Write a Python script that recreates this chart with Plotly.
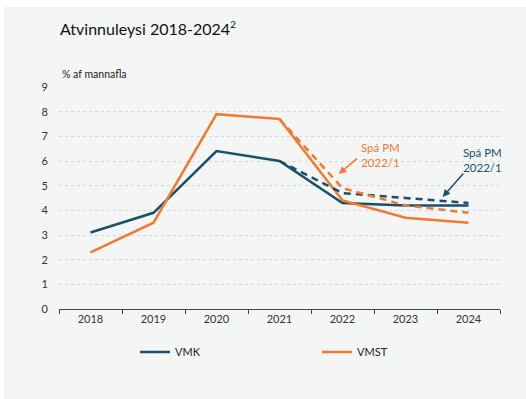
import plotly.graph_objects as go

# Unemployment 2018-2024, % of labour force
years = ["2018", "2019", "2020", "2021", "2022", "2023", "2024"]
vmk = [3.1, 3.9, 6.4, 6.0, 4.3, 4.2, 4.2]
vmst = [2.3, 3.5, 7.9, 7.7, 4.4, 3.7, 3.5]

# Earlier forecast (PM 2022/1), from 2021 onward
fc_years = ["2021", "2022", "2023", "2024"]
vmk_fc = [6.0, 4.7, 4.5, 4.3]
vmst_fc = [7.7, 4.9, 4.2, 3.9]

BLUE = "#1b4f6b"
ORANGE = "#f07a2e"
BG = "#f4f6f6"
FONT = "Lato"

fig = go.Figure()
fig.add_trace(go.Scatter(x=years, y=vmk, mode="lines", name="VMK",
                         line=dict(color=BLUE, width=2.5)))
fig.add_trace(go.Scatter(x=years, y=vmst, mode="lines", name="VMST",
                         line=dict(color=ORANGE, width=2.5)))
fig.add_trace(go.Scatter(x=fc_years, y=vmk_fc, mode="lines", showlegend=False,
                         line=dict(color=BLUE, width=2.5, dash="7px,5px")))
fig.add_trace(go.Scatter(x=fc_years, y=vmst_fc, mode="lines", showlegend=False,
                         line=dict(color=ORANGE, width=2.5, dash="7px,5px")))

W, H = 526, 399
ML, MR, MT, MB = 59, 26, 87, 90

def px_x(p):
    return (p - ML) / (W - ML - MR)

def px_y(p):
    return (H - MB - p) / (H - MT - MB)

# Panel background
fig.add_shape(type="rect", xref="paper", yref="paper",
              x0=px_x(4), x1=px_x(W), y0=px_y(H), y1=px_y(7),
              fillcolor=BG, line=dict(width=0), layer="below")

fig.add_annotation(text="Atvinnuleysi 2018-2024<sup><span style='font-size:10px'>2</span></sup>",
                   xref="paper", yref="paper",
                   x=px_x(58), y=px_y(28), xanchor="left", yanchor="middle",
                   showarrow=False, font=dict(family=FONT, size=16, color="#111111"))
fig.add_annotation(text="% af mannafla", xref="paper", yref="paper",
                   x=px_x(60), y=px_y(74), xanchor="left", yanchor="middle",
                   showarrow=False, font=dict(family=FONT, size=10.5, color="#222222"))

# Forecast labels and their pointers
fig.add_annotation(text="Spá PM<br>2022/1", xref="paper", yref="paper",
                   x=px_x(380), y=px_y(155), xanchor="center", yanchor="middle",
                   showarrow=False, font=dict(family=FONT, size=11.5, color=ORANGE))
fig.add_annotation(text="", x=3.94, y=5.47, xref="x", yref="y",
                   ax=20, ay=-17, showarrow=True, arrowhead=2, arrowsize=1,
                   arrowwidth=1.5, arrowcolor=ORANGE, standoff=0)
fig.add_annotation(text="Spá PM<br>2022/1", xref="paper", yref="paper",
                   x=px_x(482), y=px_y(160), xanchor="center", yanchor="middle",
                   showarrow=False, font=dict(family=FONT, size=11.5, color=BLUE))
fig.add_annotation(text="", x=5.59, y=4.54, xref="x", yref="y",
                   ax=22, ay=-25, showarrow=True, arrowhead=2, arrowsize=1,
                   arrowwidth=1.5, arrowcolor=BLUE, standoff=0)

fig.update_layout(
    width=W, height=H,
    margin=dict(l=ML, r=MR, t=MT, b=MB),
    paper_bgcolor="white", plot_bgcolor=BG,
    font=dict(family=FONT, size=11, color="#333333"),
    legend=dict(orientation="h", x=px_x(135), y=px_y(352), xanchor="left",
                yanchor="middle", entrywidth=137, entrywidthmode="pixels",
                itemwidth=30, bgcolor="rgba(0,0,0,0)",
                font=dict(family=FONT, size=11, color="#222222")),
    xaxis=dict(type="category", categoryorder="array", categoryarray=years,
               range=[-0.5, 6.5], showgrid=False,
               showline=True, linecolor="#444444", linewidth=1,
               ticks="outside", tickson="boundaries", ticklen=4,
               tickcolor="#444444", tickfont=dict(size=11), fixedrange=True),
    yaxis=dict(range=[0, 9], dtick=1, showgrid=True, gridcolor="#d4d8d8",
               griddash="dot", gridwidth=1, zeroline=False, showline=False,
               ticks="", tickfont=dict(size=11), ticklabelstandoff=10,
               fixedrange=True),
)

fig.write_html("out.html")
